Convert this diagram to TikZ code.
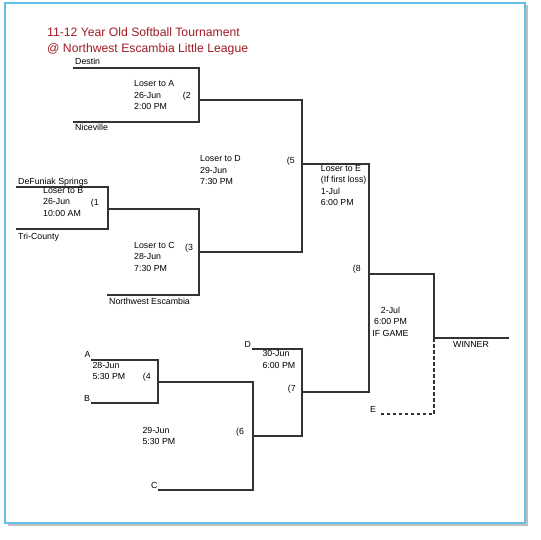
\documentclass[tikz,border=0pt]{standalone}
\usepackage{fontspec}
\setmainfont{Liberation Sans}
\usepackage{tikz}
\usepackage{xcolor}
\definecolor{titlered}{RGB}{160,28,36}
\definecolor{framecol}{RGB}{96,190,232}
\tikzset{
  bracket/.style={draw=black!80, line width=1.1pt},
  team/.style={anchor=base west, inner sep=0pt, font=\fontsize{8.8}{11.6}\selectfont, align=left},
  game/.style={team}
}
\begin{document}
\begin{tikzpicture}[x=1pt, y=-1pt]
        \useasboundingbox (0,0) rectangle (540,540);
        % frame with shadow
        \fill[black!25] (7.5,5.5) rectangle (527.5,525.5);
        \draw[framecol, fill=white, line width=1.1pt] (5,3) rectangle (525,523);
        \node[anchor=base west, inner sep=0pt, text=titlered, font=\fontsize{12.2}{15.7}\selectfont, align=left] (title) at (47,52.1) {11-12 Year Old Softball Tournament\\@ Northwest Escambia Little League};
        % team lines
        \coordinate (destin) at (73,68);
        \coordinate (nice) at (73,122);
        \coordinate (defu) at (16,187);
        \coordinate (tric) at (16,229);
        \coordinate (nwe) at (107,295);
        \coordinate (A) at (91,360);
        \coordinate (B) at (91,403);
        \coordinate (C) at (158,490);
        \coordinate (D) at (252,349);
        \coordinate (E) at (380,414);
        \coordinate (win) at (509,338);
        % games
        \coordinate (g1) at (108,209);
        \coordinate (g2) at (199,100);
        \coordinate (g3) at (199,252);
        \coordinate (g4) at (158,382);
        \coordinate (g5) at (302,164);
        \coordinate (g6) at (253,436);
        \coordinate (g7) at (302,392);
        \coordinate (g8) at (369,274);
        \coordinate (g9) at (434,338);
        \draw[bracket] (destin) -| (g2) |- (nice);
        \draw[bracket] (defu) -| (g1) |- (tric);
        \draw[bracket] (g1) -| (g3) |- (nwe);
        \draw[bracket] (g2) -| (g5) |- (g3);
        \draw[bracket] (A) -| (g4) |- (B);
        \draw[bracket] (g4) -| (g6) |- (C);
        \draw[bracket] (D) -| (g7);
        \draw[bracket] (g6) -| (g7);
        \draw[bracket] (g5) -| (g8) |- (g7);
        \draw[bracket] (g8) -| (g9) -- (win);
        \draw[bracket, line width=1.5pt, dash pattern=on 3.5pt off 2.5pt] (g9) |- (E);
        % labels
        \node[team] (tdestin) at (75,64.9) {Destin};
        \node[team] (tnice) at (75,130.2) {Niceville};
        \node[team] (tdefu) at (18,184.9) {DeFuniak Springs};
        \node[team] (ttric) at (18,239.9) {Tri-County};
        \node[team] (tnwe) at (109,304.5) {Northwest Escambia};
        \node[team] (tA) at (84.5,357.5) {A};
        \node[team] (tB) at (84,401.5) {B};
        \node[team] (tC) at (151,488.2) {C};
        \node[team] (tD) at (244.5,347.5) {D};
        \node[team] (tE) at (370,412.2) {E};
        \node[team] (twin) at (453,347.2) {WINNER};
        \node[game] (l2) at (134,109.9) {Loser to A\\26-Jun\\2:00 PM};
        \node[game] (n2) at (182.7,98.2) {(2};
        \node[game] (l1) at (43,216.5) {Loser to B\\26-Jun\\10:00 AM};
        \node[game] (n1) at (90.7,205.9) {(1};
        \node[game] (l3) at (134,271.2) {Loser to C\\28-Jun\\7:30 PM};
        \node[game] (n3) at (185,250.5) {(3};
        \node[game] (l5) at (200,184.9) {Loser to D\\29-Jun\\7:30 PM};
        \node[game] (n5) at (286.7,163.2) {(5};
        \node[game] (l8) at (320.7,205.9) {Loser to E\\(If first loss)\\1-Jul\\6:00 PM};
        \node[game] (n8) at (352.7,271.5) {(8};
        \node[game] (l4) at (92.3,379.9) {28-Jun\\5:30 PM};
        \node[game] (n4) at (142.7,379.9) {(4};
        \node[game] (l6) at (142.3,444.9) {29-Jun\\5:30 PM};
        \node[game] (n6) at (236,434.2) {(6};
        \node[game] (l7) at (262.3,368.2) {30-Jun\\6:00 PM};
        \node[game] (n7) at (287.7,391.5) {(7};
        \node[game, align=center, anchor=base] (l9) at (390.5,336.5) {2-Jul\\6:00 PM\\IF GAME};
    \end{tikzpicture}
\end{document}
